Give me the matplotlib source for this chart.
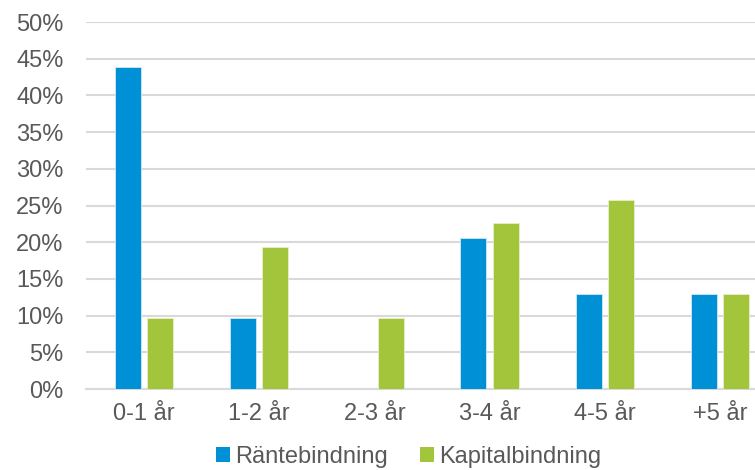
import matplotlib.pyplot as plt
import numpy as np

kategorier = ['0-1 år', '1-2 år', '2-3 år', '3-4 år', '4-5 år', '+5 år']
rantebindning = [43.9, 9.7, 0.0, 20.6, 12.9, 12.9]
kapitalbindning = [9.7, 19.4, 9.7, 22.6, 25.8, 12.9]

plt.rcParams['font.family'] = ['Liberation Sans', 'DejaVu Sans']
gra = '#595959'

fig = plt.figure(figsize=(7.55, 4.70), dpi=100)
ax = fig.add_axes([86.4 / 755, 1 - 389 / 470, (777.6 - 86.4) / 755, (389 - 22) / 470])

x = np.arange(len(kategorier))
b = 0.226
ax.bar(x - 0.14, rantebindning, b, color='#0090D5', edgecolor='#CFE9F7', linewidth=0.6,
       label='Räntebindning', zorder=3)
ax.bar(x + 0.14, kapitalbindning, b, color='#A2C53C', edgecolor='#E6F0CC', linewidth=0.6,
       label='Kapitalbindning', zorder=3)

ax.set_xlim(-0.5, len(kategorier) - 0.5)
ax.set_ylim(0, 50)
ax.set_yticks(range(0, 51, 5))
ax.set_yticklabels([f'{v}%' for v in range(0, 51, 5)])
ax.set_xticks(x)
ax.set_xticklabels(kategorier)
ax.yaxis.grid(True, color='#D9D9D9', linewidth=1.5, zorder=0)
ax.tick_params(axis='both', length=0, labelsize=17, colors=gra)
ax.tick_params(axis='y', pad=16.5)
ax.tick_params(axis='x', pad=10)
for s in ['top', 'right', 'left']:
    ax.spines[s].set_visible(False)
ax.spines['bottom'].set_color('#D9D9D9')
ax.spines['bottom'].set_linewidth(1.5)

leg = fig.legend(loc='center', bbox_to_anchor=(408.5 / 755, 1 - 457 / 470), ncol=2, frameon=False,
                 fontsize=17, handlelength=0.6, handleheight=0.6, handletextpad=0.2,
                 columnspacing=1.35, labelcolor=gra)
for h in leg.legend_handles:
    h.set_edgecolor('none')

fig.savefig('out.png', dpi=100)
